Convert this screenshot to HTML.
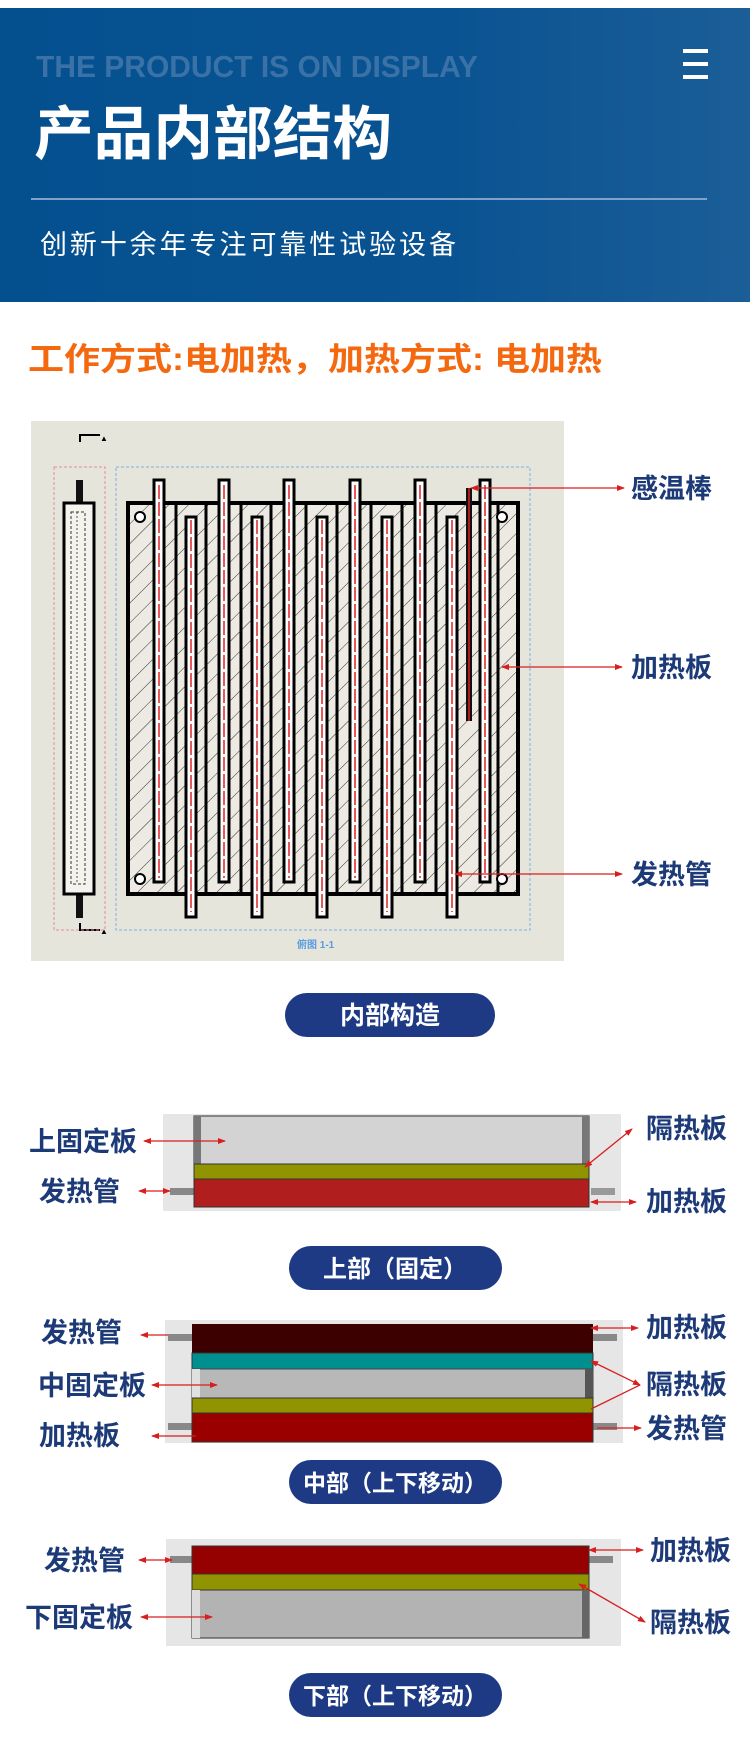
<!DOCTYPE html>
<html><head><meta charset="utf-8"><style>
html,body{margin:0;padding:0;background:#fff}
svg{display:block}
text{font-family:"Liberation Sans","Noto Sans CJK SC",sans-serif}
</style></head><body>
<svg width="750" height="1758" viewBox="0 0 750 1758" xmlns="http://www.w3.org/2000/svg">
<defs>
<marker id="ah" markerWidth="8" markerHeight="8" refX="7" refY="4" orient="auto-start-reverse" markerUnits="userSpaceOnUse"><path d="M0,1 L8,4 L0,7 Z" fill="#d81e1e"/></marker>
<pattern id="hatch" width="14" height="14" patternUnits="userSpaceOnUse" patternTransform="rotate(45)"><line x1="0" y1="0" x2="0" y2="14" stroke="#333" stroke-width="1"/></pattern>
<linearGradient id="hg" x1="0" x2="1"><stop offset="0" stop-color="#04508f"/><stop offset="0.6" stop-color="#0a5392"/><stop offset="1" stop-color="#1b5e98"/></linearGradient>
</defs>
<rect x="0" y="8" width="750" height="294" fill="url(#hg)"/>
<text x="36" y="77" font-size="31" font-weight="bold" fill="#3a72a8" textLength="442" lengthAdjust="spacingAndGlyphs">THE PRODUCT IS ON DISPLAY</text>
<text x="34" y="154" font-size="58" font-weight="bold" fill="#fff" textLength="358" lengthAdjust="spacingAndGlyphs">产品内部结构</text>
<rect x="683" y="49" width="25" height="4" fill="#fff"/><rect x="683" y="62" width="25" height="4" fill="#fff"/><rect x="683" y="75" width="25" height="4" fill="#fff"/>
<rect x="31" y="198" width="676" height="2" fill="#7fa3c8"/>
<text x="40" y="254" font-size="27" fill="#fff" textLength="416" lengthAdjust="spacing">创新十余年专注可靠性试验设备</text>
<text x="28" y="370" font-size="32" font-weight="bold" fill="#f4690f" textLength="574" lengthAdjust="spacingAndGlyphs">工作方式:电加热，加热方式: 电加热</text>
<rect x="31" y="421" width="533" height="540" fill="#e6e5dc"/>
<path d="M80,442 V435 H100" stroke="#000" stroke-width="2" fill="none"/><text x="100" y="441" font-size="8">▲</text>
<path d="M80,923 V930 H100" stroke="#000" stroke-width="2" fill="none"/><text x="100" y="934" font-size="8">▲</text>
<rect x="54" y="467" width="51" height="463" fill="none" stroke="#e58aa0" stroke-dasharray="3,2"/>
<rect x="116" y="467" width="414" height="463" fill="none" stroke="#7aaee0" stroke-dasharray="3,2"/>
<rect x="76" y="480" width="7" height="24" fill="#111"/><rect x="76" y="893" width="7" height="25" fill="#111"/>
<rect x="64" y="503" width="30" height="391" fill="#f4f3ee" stroke="#000" stroke-width="3"/>
<rect x="71" y="512" width="14" height="372" fill="none" stroke="#333" stroke-dasharray="3,2"/>
<line x1="77" y1="512" x2="77" y2="884" stroke="#555" stroke-dasharray="2,2"/>
<rect x="128" y="503" width="390" height="391" fill="#eceae2"/>
<rect x="128" y="503" width="390" height="391" fill="url(#hatch)"/>
<rect x="128" y="503" width="390" height="391" fill="none" stroke="#000" stroke-width="4"/>
<g fill="#fff" stroke="#000" stroke-width="3">
<rect x="154" y="480" width="10" height="402"/><rect x="219" y="480" width="10" height="402"/><rect x="284" y="480" width="10" height="402"/><rect x="350" y="480" width="10" height="402"/><rect x="415" y="480" width="10" height="402"/><rect x="480" y="480" width="10" height="402"/>
<rect x="186" y="517" width="10" height="400"/><rect x="252" y="517" width="10" height="400"/><rect x="317" y="517" width="10" height="400"/><rect x="382" y="517" width="10" height="400"/><rect x="447" y="517" width="10" height="400"/>
</g>
<g stroke="#000" stroke-width="3">
<line x1="176" y1="505" x2="176" y2="892"/><line x1="241" y1="505" x2="241" y2="892"/><line x1="306" y1="505" x2="306" y2="892"/><line x1="371" y1="505" x2="371" y2="892"/><line x1="436" y1="505" x2="436" y2="892"/><line x1="206" y1="505" x2="206" y2="892"/><line x1="271" y1="505" x2="271" y2="892"/><line x1="337" y1="505" x2="337" y2="892"/><line x1="402" y1="505" x2="402" y2="892"/><line x1="498" y1="505" x2="498" y2="892"/>
</g>
<g stroke="#e02020" stroke-width="1.5" stroke-dasharray="14,3">
<line x1="159" y1="485" x2="159" y2="878"/><line x1="224" y1="485" x2="224" y2="878"/><line x1="289" y1="485" x2="289" y2="878"/><line x1="355" y1="485" x2="355" y2="878"/><line x1="420" y1="485" x2="420" y2="878"/><line x1="485" y1="485" x2="485" y2="878"/>
<line x1="191" y1="520" x2="191" y2="912"/><line x1="257" y1="520" x2="257" y2="912"/><line x1="322" y1="520" x2="322" y2="912"/><line x1="387" y1="520" x2="387" y2="912"/><line x1="452" y1="520" x2="452" y2="912"/>
</g>
<rect x="466" y="488" width="6" height="233" fill="#111"/><line x1="469" y1="488" x2="469" y2="721" stroke="#e02020" stroke-width="1.5"/>
<g fill="#fff" stroke="#000" stroke-width="2"><circle cx="140" cy="517" r="5"/><circle cx="502" cy="517" r="5"/><circle cx="140" cy="879" r="5"/><circle cx="502" cy="879" r="5"/></g>
<text x="297" y="948" font-size="10" fill="#5a9be0" font-weight="bold">俯图 1-1</text>
<g stroke="#d81e1e" stroke-width="1.3" marker-start="url(#ah)" marker-end="url(#ah)">
<line x1="471" y1="488" x2="624" y2="488"/><line x1="502" y1="667" x2="622" y2="667"/><line x1="455" y1="874" x2="622" y2="874"/>
</g>
<g font-size="27" fill="#1d3a78" font-weight="bold">
<text x="631" y="498">感温棒</text><text x="631" y="677">加热板</text><text x="631" y="884">发热管</text>
</g>
<rect x="285" y="993" width="210" height="44" rx="22" fill="#1e3a85"/>
<text x="390" y="1024" font-size="25" fill="#fff" text-anchor="middle" font-weight="bold">内部构造</text>

<rect x="163" y="1114" width="458" height="97" fill="#e6e6e6"/>
<rect x="170" y="1188" width="24" height="7" fill="#888"/><rect x="591" y="1188" width="24" height="7" fill="#999"/>
<rect x="194" y="1116" width="395" height="48" fill="#d3d3d3" stroke="#333" stroke-width="1"/>
<rect x="194" y="1116" width="7" height="48" fill="#777"/><rect x="582" y="1116" width="7" height="48" fill="#777"/>
<rect x="194" y="1164" width="395" height="15" fill="#8f9400" stroke="#333" stroke-width="1"/>
<rect x="194" y="1179" width="395" height="28" fill="#b01e1e" stroke="#333" stroke-width="1"/>
<g stroke="#d81e1e" stroke-width="1.3">
<line x1="144" y1="1141" x2="225" y2="1141" marker-start="url(#ah)" marker-end="url(#ah)"/>
<line x1="139" y1="1191" x2="170" y2="1191" marker-start="url(#ah)" marker-end="url(#ah)"/>
<line x1="585" y1="1167" x2="632" y2="1129" marker-start="url(#ah)" marker-end="url(#ah)"/>
<line x1="591" y1="1202" x2="636" y2="1202" marker-start="url(#ah)" marker-end="url(#ah)"/>
</g>
<g font-size="27" fill="#1d3a78" font-weight="bold">
<text x="29" y="1151">上固定板</text><text x="39" y="1201">发热管</text><text x="646" y="1138">隔热板</text><text x="646" y="1211">加热板</text>
</g>
<rect x="289" y="1246" width="213" height="44" rx="22" fill="#1e3a85"/>
<text x="395" y="1277" font-size="24" fill="#fff" text-anchor="middle" font-weight="bold">上部（固定）</text>

<rect x="165" y="1320" width="458" height="123" fill="#e6e6e6"/>
<rect x="168" y="1334" width="24" height="7" fill="#888"/><rect x="593" y="1334" width="24" height="7" fill="#888"/>
<rect x="168" y="1423" width="24" height="7" fill="#888"/><rect x="593" y="1423" width="24" height="7" fill="#888"/>
<rect x="192" y="1324" width="401" height="29" fill="#3d0000"/>
<rect x="192" y="1353" width="401" height="16" fill="#008f8f" stroke="#333" stroke-width="1"/>
<rect x="192" y="1369" width="401" height="29" fill="#b8b8b8" stroke="#444" stroke-width="1"/>
<rect x="192" y="1369" width="8" height="29" fill="#e0e0e0"/><rect x="585" y="1369" width="8" height="29" fill="#555"/>
<rect x="192" y="1398" width="401" height="15" fill="#8f9400" stroke="#333" stroke-width="1"/>
<rect x="192" y="1413" width="401" height="29" fill="#9a0000" stroke="#333" stroke-width="1"/>
<g stroke="#d81e1e" stroke-width="1.3">
<line x1="141" y1="1335" x2="168" y2="1335" marker-start="url(#ah)"/>
<line x1="152" y1="1385" x2="217" y2="1385" marker-start="url(#ah)" marker-end="url(#ah)"/>
<line x1="152" y1="1436" x2="196" y2="1436" marker-start="url(#ah)"/>
<line x1="591" y1="1328" x2="638" y2="1328" marker-start="url(#ah)" marker-end="url(#ah)"/>
<line x1="591" y1="1361" x2="640" y2="1385" marker-start="url(#ah)" marker-end="url(#ah)"/>
<line x1="591" y1="1409" x2="640" y2="1385"/>
<line x1="597" y1="1428" x2="641" y2="1428" marker-end="url(#ah)"/>
</g>
<g font-size="27" fill="#1d3a78" font-weight="bold">
<text x="41" y="1342">发热管</text><text x="38" y="1395">中固定板</text><text x="39" y="1445">加热板</text>
<text x="646" y="1337">加热板</text><text x="646" y="1394">隔热板</text><text x="646" y="1438">发热管</text>
</g>
<rect x="289" y="1460" width="213" height="44" rx="22" fill="#1e3a85"/>
<text x="395" y="1491" font-size="23" fill="#fff" text-anchor="middle" font-weight="bold">中部（上下移动）</text>

<rect x="166" y="1539" width="455" height="107" fill="#e6e6e6"/>
<rect x="170" y="1556" width="22" height="7" fill="#888"/><rect x="589" y="1556" width="24" height="7" fill="#888"/>
<rect x="192" y="1546" width="397" height="28" fill="#950000" stroke="#333" stroke-width="1"/>
<rect x="192" y="1574" width="397" height="16" fill="#8f9400" stroke="#333" stroke-width="1"/>
<rect x="192" y="1590" width="397" height="48" fill="#b3b3b3" stroke="#333" stroke-width="1"/>
<rect x="192" y="1590" width="8" height="48" fill="#ddd"/><rect x="582" y="1590" width="7" height="48" fill="#666"/>
<g stroke="#d81e1e" stroke-width="1.3">
<line x1="139" y1="1560" x2="172" y2="1560" marker-start="url(#ah)" marker-end="url(#ah)"/>
<line x1="141" y1="1617" x2="212" y2="1617" marker-start="url(#ah)" marker-end="url(#ah)"/>
<line x1="589" y1="1550" x2="643" y2="1550" marker-start="url(#ah)" marker-end="url(#ah)"/>
<line x1="579" y1="1584" x2="645" y2="1622" marker-start="url(#ah)" marker-end="url(#ah)"/>
</g>
<g font-size="27" fill="#1d3a78" font-weight="bold">
<text x="44" y="1570">发热管</text><text x="25" y="1627">下固定板</text><text x="650" y="1560">加热板</text><text x="650" y="1632">隔热板</text>
</g>
<rect x="289" y="1673" width="213" height="44" rx="22" fill="#1e3a85"/>
<text x="395" y="1704" font-size="23" fill="#fff" text-anchor="middle" font-weight="bold">下部（上下移动）</text>
</svg>
</body></html>
